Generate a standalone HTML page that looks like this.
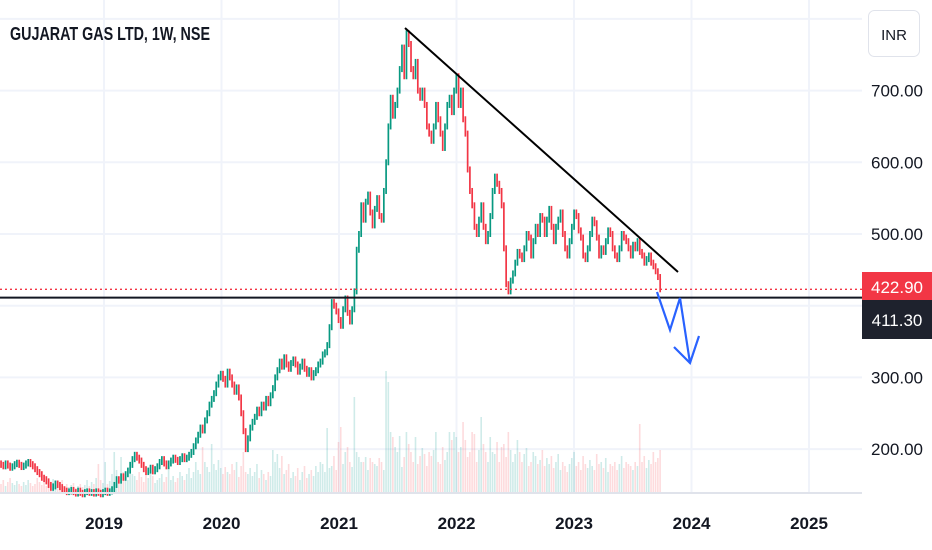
<!DOCTYPE html>
<html><head><meta charset="utf-8"><style>
html,body{margin:0;padding:0;background:#fff;}
svg{display:block;font-family:"Liberation Sans",sans-serif;}
</style></head><body>
<svg id="chart" width="932" height="550" viewBox="0 0 932 550">
<g id="grid"></g>
<g id="vols"></g>
<g id="candles"></g>
<line x1="0" y1="289.3" x2="862" y2="289.3" stroke="#f23645" stroke-width="1.3" stroke-dasharray="2,3"/>
<line x1="0" y1="297.6" x2="862" y2="297.6" stroke="#131722" stroke-width="2"/>
<line x1="405" y1="28" x2="678" y2="272" stroke="#000" stroke-width="2"/>
<polyline points="657,292 670,330 680,298 690,363" fill="none" stroke="#2962ff" stroke-width="2.2"/>
<polyline points="674,347 690,363 699,336" fill="none" stroke="#2962ff" stroke-width="2.2"/>
<line x1="0" y1="493" x2="862" y2="493" stroke="#e0e3eb" stroke-width="2"/>
<g id="yaxis"></g>
<g id="xaxis"></g>
<text x="10" y="40" font-size="18" font-weight="bold" fill="#131722" textLength="200" lengthAdjust="spacingAndGlyphs">GUJARAT GAS LTD, 1W, NSE</text>
<rect x="868.5" y="10.5" width="51" height="46" rx="6" fill="#fff" stroke="#e0e3eb"/>
<text x="894" y="40" font-size="15" fill="#131722" text-anchor="middle">INR</text>
<rect x="862" y="272" width="70" height="28" fill="#f23645"/>
<text x="897" y="293" font-size="17" fill="#fff" text-anchor="middle">422.90</text>
<rect x="862" y="300" width="70" height="39" fill="#1e222d"/>
<text x="897" y="326" font-size="17" fill="#fff" text-anchor="middle">411.30</text>
</svg>
<script>
const closes = [
178,176,180,177,174,176,179,181,178,175,
177,180,182,179,176,172,168,165,160,158,
155,150,146,148,152,150,147,144,142,140,
141,143,140,138,142,139,137,140,141,139,
140,138,141,139,137,140,142,139,141,144,
150,158,156,162,160,165,170,178,186,192,
188,184,178,172,168,170,174,169,172,176,
182,186,180,176,180,184,188,185,182,186,
190,186,188,192,196,204,212,220,230,226,
240,250,262,270,278,290,300,305,298,290,
308,300,290,280,286,272,250,225,200,215,
230,238,245,255,250,262,258,270,264,275,
285,300,310,322,315,328,318,312,320,325,
318,308,315,322,312,305,310,300,306,310,
318,322,332,335,345,370,405,400,392,380,
372,395,410,390,378,395,420,478,500,540,
520,545,555,530,512,535,550,525,520,560,
600,650,690,665,680,700,730,760,720,780,
765,730,720,740,700,690,700,680,650,640,
630,650,680,660,640,620,650,680,690,670,
700,720,680,700,660,640,590,560,540,510,
500,520,540,510,490,500,525,560,580,570,
560,540,480,430,420,435,445,460,475,470,
465,480,500,495,470,490,510,500,525,520,
500,520,535,510,490,510,520,530,500,480,
470,490,510,530,525,505,495,470,465,480,
500,520,515,495,470,480,475,490,505,500,
480,470,465,480,500,495,490,480,470,485,
480,490,475,470,460,465,470,460,455,448,
440,422.9];
const firstOpen = 180;
const volumes = [
8,12,6,10,14,9,7,11,8,6,
10,7,12,9,6,8,14,10,7,9,
6,11,8,13,7,5,9,12,6,8,
5,7,9,4,6,8,5,7,12,6,
10,8,14,28,12,9,30,8,11,18,
40,22,15,35,20,14,12,25,18,16,
12,20,15,10,18,14,22,16,9,12,
14,18,10,15,22,12,16,10,14,20,
16,12,18,24,14,20,30,22,18,45,
30,25,20,48,28,22,32,24,18,25,
20,18,28,22,30,15,26,40,20,18,
24,16,20,28,14,22,18,12,20,16,
42,30,38,24,36,18,22,28,14,20,
16,24,12,20,26,14,18,22,16,26,
20,30,28,20,64,24,26,36,22,50,
65,28,40,45,30,25,95,40,35,30,
30,35,22,34,30,28,26,34,30,22,
121,110,60,55,45,40,56,25,35,60,
48,40,30,55,28,36,44,38,26,40,
36,42,60,30,28,45,32,40,60,52,
60,55,40,45,70,52,35,40,60,58,
30,42,75,48,40,30,55,40,38,50,
30,45,48,35,60,42,30,38,52,40,
30,38,44,26,30,40,36,28,32,42,
26,34,28,36,24,30,38,22,30,26,
20,28,34,40,26,30,22,36,28,24,
32,26,22,38,28,30,24,34,20,28,
26,30,22,28,36,24,30,28,26,22,
30,26,68,30,36,24,32,28,40,30,
34,42];
const priceTicks = [800,700,600,500,400,300,200];
const priceTickLabels = ["","700.00","600.00","500.00","","300.00","200.00"];
const years = [2019,2020,2021,2022,2023,2024,2025];

const NS = "http://www.w3.org/2000/svg";
function yScale(p){ return 234 - (p - 500) * 0.717; }
function xYear(yr){ return 104 + (yr - 2019) * 117.5; }
function xWeek(i){ return 1 + i * 2.265; }
function volH(v){ return v * 1.0; }
function mk(tag, attrs, parent){
  const e = document.createElementNS(NS, tag);
  for (const k in attrs) e.setAttribute(k, attrs[k]);
  parent.appendChild(e); return e;
}
const grid = document.getElementById('grid');
const yaxis = document.getElementById('yaxis');
const xaxis = document.getElementById('xaxis');
priceTicks.forEach((p, i) => {
  const y = yScale(p);
  const l = mk('line', {x1:0, y1:y, x2:862, y2:y, stroke:'#f0f3fa', 'stroke-width':2}, grid);
  
  
  if (priceTickLabels[i]) {
    const t = mk('text', {x:897, y:y+6, 'font-size':17, fill:'#131722', 'text-anchor':'middle'}, yaxis);
    t.textContent = priceTickLabels[i];
    
    
  }
});
years.forEach(yr => {
  const x = xYear(yr);
  const l = mk('line', {x1:x, y1:0, x2:x, y2:492, stroke:'#f0f3fa', 'stroke-width':2}, grid);
  
  
  const t = mk('text', {x:x, y:529, 'font-size':17, 'font-weight':'bold', fill:'#131722', 'text-anchor':'middle'}, xaxis);
  t.textContent = yr;
  
  
});
const cg = document.getElementById('candles');
const vg = document.getElementById('vols');
closes.forEach((c, i) => {
  const o = i === 0 ? firstOpen : closes[i-1];
  const up = c >= o;
  const x = xWeek(i);
  const vh = volH(volumes[i]);
  const vb = mk('rect', {x:x-0.8, y:492-vh, width:1.6, height:vh, fill: up ? 'rgba(38,166,154,0.22)' : 'rgba(242,54,69,0.18)'}, vg);
  
  
  const y1 = yScale(Math.max(o, c)), y2 = yScale(Math.min(o, c));
  const cb = mk('rect', {x:x-0.8, y:y1-3, width:1.7, height:Math.max(3, y2-y1+6), fill: up ? '#089981' : '#f23645'}, cg);
  
  
});
</script>
</body></html>
